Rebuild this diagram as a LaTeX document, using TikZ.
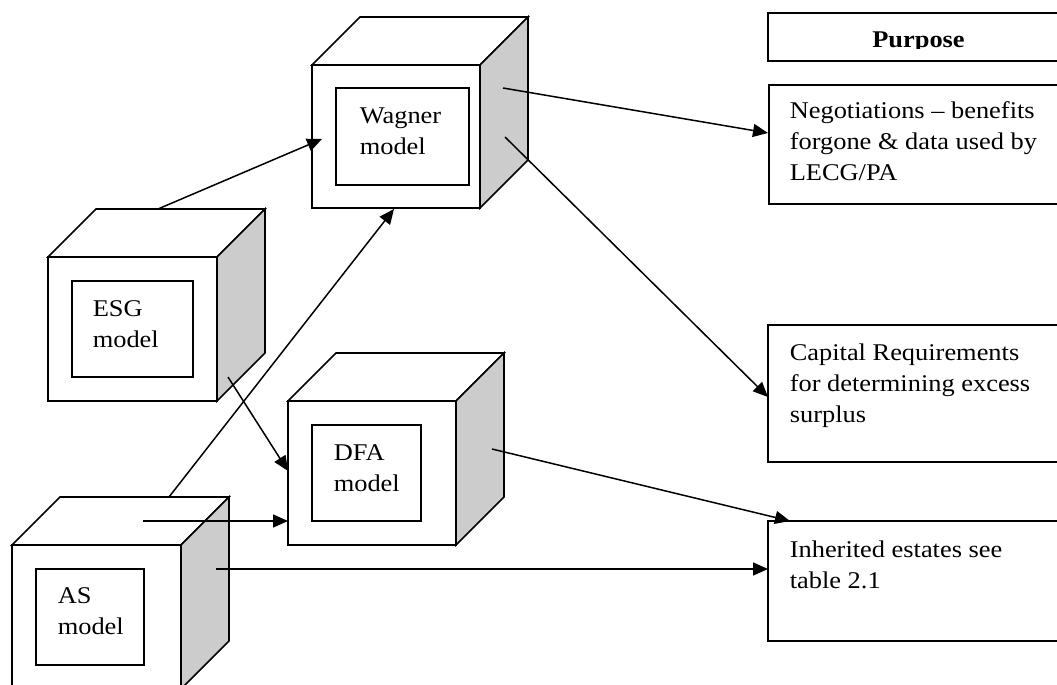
\documentclass[tikz,border=0pt]{standalone}
\usepackage{fontspec}
\setmainfont{Liberation Serif}[FakeStretch=1.1]
\usetikzlibrary{arrows.meta}
\newcommand\twolines[2]{\begin{tabular}[t]{@{}l@{}}#1\\#2\end{tabular}}
\newcommand\threelines[3]{\begin{tabular}[t]{@{}l@{}}#1\\#2\\#3\end{tabular}}
\begin{document}
\begin{tikzpicture}[x=1pt,y=-1pt, line width=1.6pt, line join=miter,
  face/.style={draw, fill=white, rectangle, inner sep=0pt, outer sep=0pt},
  sideface/.style={draw, fill=gray!40},
  topface/.style={draw, fill=white},
  lbl/.style={inner sep=0pt, anchor=base west, font=\fontsize{24}{31}\selectfont},
  arr/.style={-{Triangle[length=15pt,width=13pt]}, line width=1.5pt},
  tbox/.style={draw, fill=white, rectangle, inner sep=0pt, outer sep=0pt, anchor=north west, minimum width=310pt}
]
\useasboundingbox (0,0) rectangle (1057,685);
\clip (0,0) rectangle (1057,685);

% ---------- Wagner cube ----------
\node[face, minimum width=168pt, minimum height=143pt] (wag) at (396,136.5) {};
\filldraw[topface] (wag.north west) -- ++(48,-48) -- ++(168,0) -- (wag.north east) -- cycle;
\filldraw[sideface] (wag.north east) -- ++(48,-48) -- ++(0,143) -- (wag.south east) -- cycle;
\node[face, minimum width=133pt, minimum height=97pt] (wagin) at (402.5,136.5) {};
\node[lbl] (wagt) at (359,123) {\twolines{Wagner}{model}};

% ---------- ESG cube ----------
\node[face, minimum width=169pt, minimum height=144pt] (esg) at (132.5,329) {};
\filldraw[topface] (esg.north west) -- ++(48,-48) -- ++(169,0) -- (esg.north east) -- cycle;
\filldraw[sideface] (esg.north east) -- ++(48,-48) -- ++(0,144) -- (esg.south east) -- cycle;
\node[face, minimum width=121pt, minimum height=96pt] (esgin) at (132.5,329) {};
\node[lbl] (esgt) at (92,316) {\twolines{ESG}{model}};

% ---------- DFA cube ----------
\node[face, minimum width=168pt, minimum height=144pt] (dfa) at (372,473) {};
\filldraw[topface] (dfa.north west) -- ++(48,-48) -- ++(168,0) -- (dfa.north east) -- cycle;
\filldraw[sideface] (dfa.north east) -- ++(48,-48) -- ++(0,144) -- (dfa.south east) -- cycle;
\node[face, minimum width=109pt, minimum height=96pt] (dfain) at (366.5,473) {};
\node[lbl] (dfat) at (333,460) {\twolines{DFA}{model}};

% ---------- AS cube ----------
\node[face, minimum width=169pt, minimum height=144pt] (as) at (96.5,617) {};
\filldraw[topface] (as.north west) -- ++(48,-48) -- ++(169,0) -- (as.north east) -- cycle;
\filldraw[sideface] (as.north east) -- ++(48,-48) -- ++(0,144) -- (as.south east) -- cycle;
\node[face, minimum width=108pt, minimum height=96pt] (asin) at (90,617) {};
\node[lbl] (ast) at (57,603) {\twolines{AS}{model}};

% ---------- Purpose column ----------
\node[tbox, minimum height=48pt] (pur) at (768,13) {};
\begin{scope}
  \clip (768,13) rectangle (1057,49);
  \node[lbl, anchor=base, font=\fontsize{24}{31}\selectfont\bfseries] (purt) at (918.5,48) {Purpose};
\end{scope}
\node[tbox, minimum height=119pt] (neg) at (769,85) {};
\node[lbl] (negt) at (789,118) {\threelines{Negotiations -- benefits}{forgone \& data used by}{LECG/PA}};
\node[tbox, minimum height=137pt] (cap) at (768,325) {};
\node[lbl] (capt) at (789,360) {\threelines{Capital Requirements}{for determining excess}{surplus}};
\node[tbox, minimum height=120pt] (inh) at (768,521) {};
\node[lbl] (inht) at (789,557) {\twolines{Inherited estates see}{table 2.1}};

% ---------- connector ends ----------
\coordinate (esgTop) at (158,209);
\coordinate (wagL) at (322,139);
\coordinate (asTop) at (169,497);
\coordinate (wagB) at (394,209);
\coordinate (wagS1) at (503,88);
\coordinate (negL) at (768,133);
\coordinate (wagS2) at (505,137);
\coordinate (capL) at (768,397);
\coordinate (esgS) at (228,377);
\coordinate (dfaL1) at (288,471);
\coordinate (asTopIn) at (143,521);
\coordinate (dfaL2) at (288,521);
\coordinate (asS) at (216,569);
\coordinate (inhL) at (768,569);
\coordinate (dfaS) at (492,449);
\coordinate (inhT) at (790,521);

% ---------- connectors ----------
\draw[arr] (esgTop) -- (wagL);
\draw[arr] (asTop) -- (wagB);
\draw[arr] (wagS1) -- (negL);
\draw[arr] (wagS2) -- (capL);
\draw[arr] (esgS) -- (dfaL1);
\draw[arr] (asTopIn) -- (dfaL2);
\draw[arr] (asS) -- (inhL);
\draw[arr] (dfaS) -- (inhT);
\end{tikzpicture}
\end{document}
